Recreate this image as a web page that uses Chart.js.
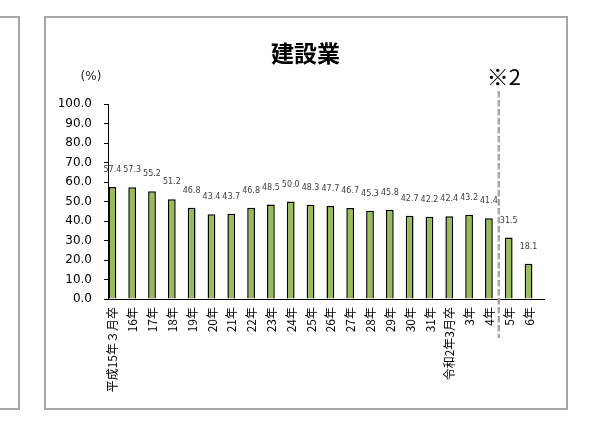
<!DOCTYPE html>
<html lang="ja">
<head>
<meta charset="utf-8">
<title>建設業</title>
<script src="https://cdn.jsdelivr.net/npm/chart.js@4/dist/chart.umd.min.js"></script>
<style>
    html, body {
        margin: 0;
        padding: 0;
        background: #ffffff;
        overflow: hidden;
    }
    #wrap {
        position: relative;
        width: 614px;
        height: 429px;
    }
    /* bordas dos quadros (o da esquerda pertence ao gráfico vizinho) */
    .frame {
        position: absolute;
        top: 16px;
        height: 390px;
        border: 2px solid #a6a6a6;
        box-sizing: content-box;
    }
    #frame-left { left: -20px; width: 36px; }
    #frame-main { left: 44px; width: 520px; }
    #chart {
        position: absolute;
        left: 0;
        top: 0;
    }
</style>
</head>
<body>
<div id="wrap">
    <div class="frame" id="frame-left"></div>
    <div class="frame" id="frame-main"></div>
    <canvas id="chart" width="614" height="429"></canvas>
</div>
<script>
// Dados do gráfico
const categorias = [
    '平成15年３月卒', '16年', '17年', '18年', '19年', '20年', '21年', '22年',
    '23年', '24年', '25年', '26年', '27年', '28年', '29年', '30年', '31年',
    '令和2年3月卒', '3年', '4年', '5年', '6年'
];
const valores = [
    57.4, 57.3, 55.2, 51.2, 46.8, 43.4, 43.7, 46.8, 48.5, 50.0, 48.3,
    47.7, 46.7, 45.3, 45.8, 42.7, 42.2, 42.4, 43.2, 41.4, 31.5, 18.1
];
// série vazia (como no Excel), que empurra as barras para a esquerda da categoria
const vazio = categorias.map(() => null);

const titulo = '建設業';
const unidade = '(%)';
const nota = '※2';
const indiceQuebra = 19; // a linha tracejada fica entre "4年" e "5年"

/**
 * Desenha título, unidade, rótulos das barras e a linha tracejada
 */
const extras = {
    id: 'extras',
    afterDatasetsDraw(chart) {
        const ctx = chart.ctx;
        const area = chart.chartArea;
        const barras = chart.getDatasetMeta(0).data;

        ctx.save();

        // rótulos de valor
        ctx.font = '8px "DejaVu Sans"';
        ctx.fillStyle = '#404040';
        ctx.textAlign = 'center';
        ctx.textBaseline = 'middle';
        barras.forEach((bar, i) => {
            ctx.fillText(valores[i].toFixed(1), bar.x, bar.y - 17);
        });

        // linha tracejada
        const xq = (barras[indiceQuebra].x + barras[indiceQuebra + 1].x) / 2;
        ctx.strokeStyle = '#a6a6a6';
        ctx.lineWidth = 2.5;
        ctx.setLineDash([6.5, 2.5]);
        ctx.beginPath();
        ctx.moveTo(xq, area.top - 13);
        ctx.lineTo(xq, area.bottom + 39);
        ctx.stroke();
        ctx.setLineDash([]);

        // ※2
        ctx.fillStyle = '#000000';
        ctx.font = '22px "Noto Sans CJK JP"';
        ctx.fillText(nota, xq + 5, area.top - 27);

        // título
        ctx.font = 'bold 23px "Noto Sans CJK JP"';
        ctx.fillText(titulo, 305.5, 53);

        // unidade
        ctx.font = '12px "DejaVu Sans"';
        ctx.fillStyle = '#262626';
        ctx.fillText(unidade, 91, 77);

        ctx.restore();
    }
};

const ctx = document.getElementById('chart').getContext('2d');

new Chart(ctx, {
    type: 'bar',
    data: {
        labels: categorias,
        datasets: [
            {
                label: titulo,
                data: valores,
                backgroundColor: '#9bbb59',
                borderColor: '#000000',
                borderWidth: 1.5,
                categoryPercentage: 1.12,
                barPercentage: 0.7
            },
            {
                label: '',
                data: vazio,
                categoryPercentage: 1.12,
                barPercentage: 0.7
            }
        ]
    },
    options: {
        responsive: false,
        animation: false,
        layout: {
            padding: { top: 104, left: 44, right: 70, bottom: 21 }
        },
        plugins: {
            legend: { display: false },
            tooltip: { enabled: false },
            title: { display: false }
        },
        scales: {
            x: {
                afterFit(scale) { scale.height = 109; },
                grid: { display: false, drawTicks: false },
                border: { color: '#000000', width: 1 },
                ticks: {
                    autoSkip: false,
                    minRotation: 90,
                    maxRotation: 90,
                    padding: 8,
                    labelOffset: -5,
                    color: '#000000',
                    font: { family: '"Noto Sans CJK JP"', size: 12 }
                }
            },
            y: {
                min: 0,
                max: 100,
                afterFit(scale) { scale.width = 64; },
                grid: {
                    drawOnChartArea: false,
                    drawTicks: true,
                    tickLength: 4,
                    color: '#000000'
                },
                border: { color: '#000000', width: 1 },
                ticks: {
                    stepSize: 10,
                    padding: 12,
                    color: '#000000',
                    font: { family: '"DejaVu Sans"', size: 12 },
                    callback: (v) => Number(v).toFixed(1)
                }
            }
        }
    },
    plugins: [extras]
});
</script>
</body>
</html>
